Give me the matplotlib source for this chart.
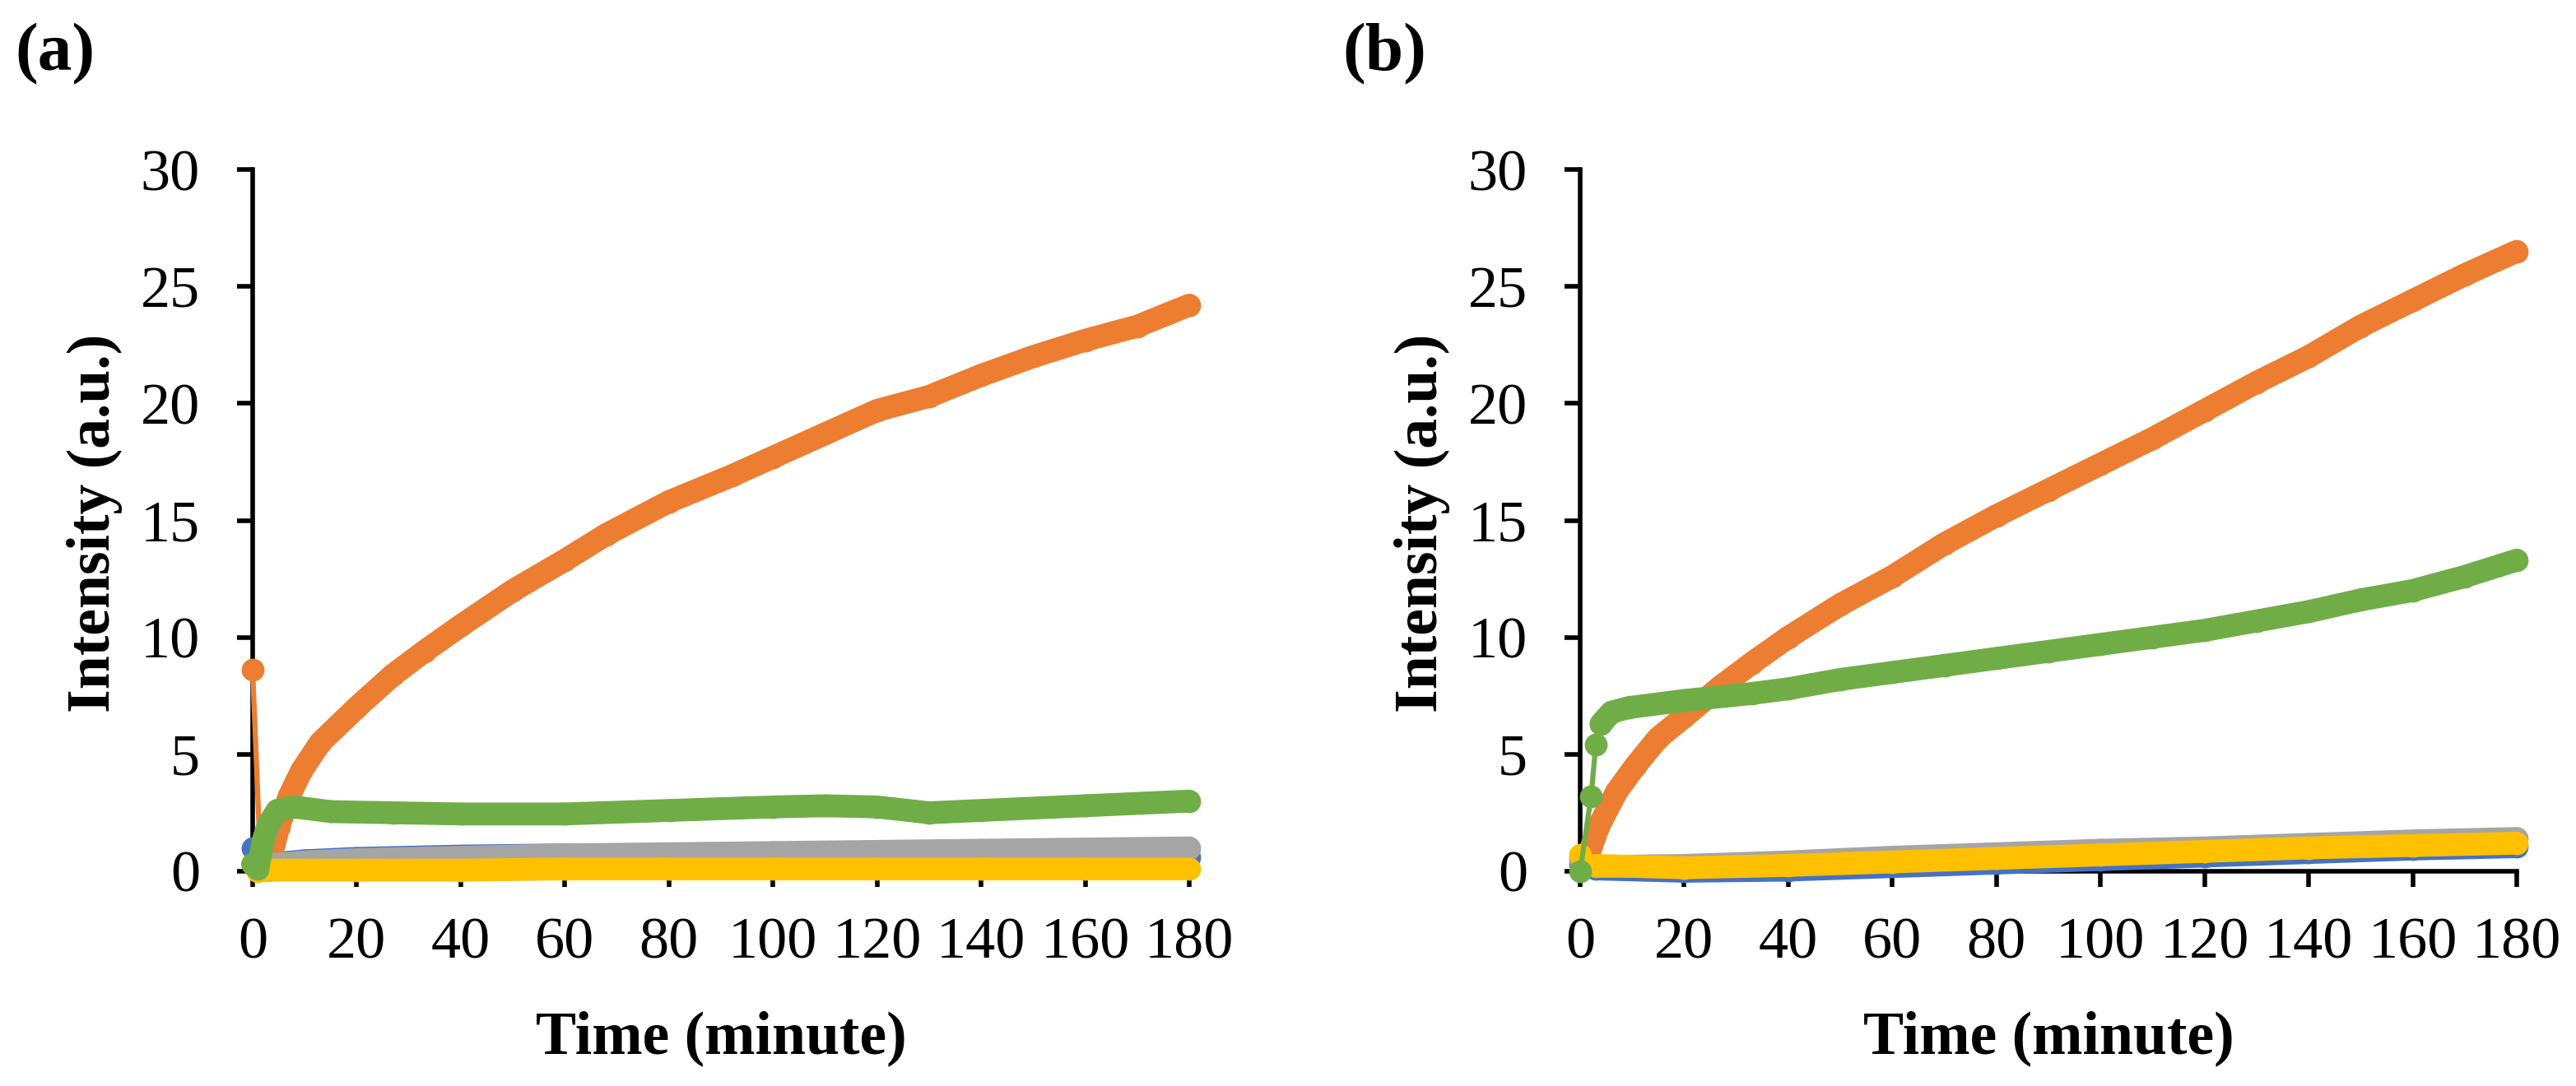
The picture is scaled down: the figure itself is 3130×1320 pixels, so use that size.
import matplotlib
matplotlib.use("Agg")
import matplotlib.pyplot as plt

plt.rcParams['font.family'] = ['Liberation Serif', 'DejaVu Serif']

# Excel default palette
blue = '#4472C4'
orange = '#ED7D31'
gray = '#A5A5A5'
yellow = '#FFC000'
green = '#70AD47'

# ---------------- panel (a) ----------------
blue_a_t = [0, 1, 3, 10, 20, 40, 60, 100, 140, 180]
blue_a_v = [1.0, 0.3, 0.3, 0.45, 0.55, 0.65, 0.7, 0.65, 0.6, 0.6]

orange_a_t = [0, 1.5, 3.5, 5, 7, 9.4, 13, 20, 27, 33, 40, 50, 60, 68, 80, 92,
              100, 110, 120, 130, 140, 150, 160, 170, 180]
orange_a_v = [8.6, 0.4, 0.6, 1.9, 3.2, 4.3, 5.5, 7.0, 8.4, 9.4, 10.5, 12.0, 13.3,
              14.4, 15.8, 16.9, 17.7, 18.7, 19.7, 20.3, 21.2, 22.0, 22.7, 23.3, 24.2]

gray_a_t = [0, 2, 10, 20, 40, 60, 80, 100, 120, 140, 160, 180]
gray_a_v = [0.3, 0.25, 0.4, 0.5, 0.6, 0.7, 0.75, 0.8, 0.85, 0.9, 0.95, 1.0]

yellow_a_t = [0, 1, 3, 20, 40, 60, 80, 100, 120, 140, 160, 180]
yellow_a_v = [0.3, 0.0, 0.05, 0.05, 0.05, 0.1, 0.1, 0.1, 0.1, 0.1, 0.1, 0.1]

green_a_t = [0, 1, 2, 3, 4.7, 8, 15, 27, 40, 60, 80, 100, 110, 120, 130, 140, 160, 180]
green_a_v = [0.3, 0.1, 1.3, 2.0, 2.6, 2.75, 2.55, 2.5, 2.45, 2.45, 2.6, 2.75, 2.8,
             2.75, 2.5, 2.6, 2.8, 3.0]

# ---------------- panel (b) ----------------
blue_b_t = [0, 3, 20, 40, 60, 80, 100, 120, 140, 160, 180]
blue_b_v = [0.3, 0.1, 0.0, 0.05, 0.2, 0.35, 0.5, 0.65, 0.8, 0.95, 1.05]

orange_b_t = [0, 1, 3.5, 7, 10.6, 15, 20, 27, 33, 40, 50, 60, 70, 80, 90, 100,
              110, 120, 130, 140, 150, 160, 170, 180]
orange_b_v = [0.6, 0.3, 1.9, 3.4, 4.5, 5.7, 6.6, 7.9, 8.9, 10.0, 11.4, 12.6, 14.0,
              15.2, 16.3, 17.4, 18.5, 19.7, 20.9, 22.0, 23.3, 24.4, 25.5, 26.5]

gray_b_t = [0, 3, 20, 40, 60, 80, 100, 120, 140, 160, 180]
gray_b_v = [0.5, 0.2, 0.25, 0.4, 0.6, 0.75, 0.9, 1.0, 1.15, 1.3, 1.4]

yellow_b_t = [0, 3, 20, 40, 60, 80, 100, 120, 140, 160, 180]
yellow_b_v = [0.7, 0.25, 0.15, 0.25, 0.4, 0.55, 0.7, 0.85, 1.0, 1.1, 1.2]

green_b_t = [0, 2.1, 3, 4, 6, 9.4, 20, 33, 40, 50, 60, 70, 80, 90, 100, 110, 120,
             130, 140, 150, 160, 170, 180]
green_b_v = [0.0, 3.2, 5.4, 6.3, 6.8, 7.0, 7.3, 7.6, 7.8, 8.2, 8.5, 8.8, 9.1, 9.4,
             9.7, 10.0, 10.3, 10.7, 11.1, 11.6, 12.0, 12.6, 13.3]

x_ticks = [0, 20, 40, 60, 80, 100, 120, 140, 160, 180]
y_ticks = [0, 5, 10, 15, 20, 25, 30]

# (time, value, colour, index where the dense marker band begins)
series_a = [(blue_a_t, blue_a_v, blue, 1),
            (orange_a_t, orange_a_v, orange, 1),
            (gray_a_t, gray_a_v, gray, 1),
            (yellow_a_t, yellow_a_v, yellow, 1),
            (green_a_t, green_a_v, green, 0)]
series_b = [(blue_b_t, blue_b_v, blue, 1),
            (orange_b_t, orange_b_v, orange, 1),
            (gray_b_t, gray_b_v, gray, 1),
            (yellow_b_t, yellow_b_v, yellow, 1),
            (green_b_t, green_b_v, green, 3)]

W, H = 3130, 1320
fig = plt.figure(figsize=(W / 100, H / 100), dpi=100)

def px(x0, x1, y0, y1):
    # axes rectangle from pixel coordinates (y measured from top)
    return [x0 / W, 1 - y1 / H, (x1 - x0) / W, (y1 - y0) / H]

ax_a = fig.add_axes(px(307, 1445, 206, 1059))
ax_b = fig.add_axes(px(1920, 3058, 206, 1059))

band_lw = 20
for ax, series in [(ax_a, series_a), (ax_b, series_b)]:
    for z, (t, v, c, k) in enumerate(series):
        ax.plot(t, v, color=c, lw=4.5, marker='o', ms=band_lw, mew=0,
                clip_on=False, zorder=3 + z)
        ax.plot(t[k:], v[k:], color=c, lw=band_lw, solid_capstyle='round',
                solid_joinstyle='round', clip_on=False, zorder=3 + z)

    ax.set_xlim(0, 180)
    ax.set_ylim(0, 30)
    ax.set_xticks(x_ticks)
    ax.set_yticks(y_ticks)
    ax.spines['top'].set_visible(False)
    ax.spines['right'].set_visible(False)
    for s in ['left', 'bottom']:
        ax.spines[s].set_linewidth(4)
        ax.spines[s].set_zorder(2)
    ax.tick_params(axis='both', direction='out', length=14, width=4,
                   labelsize=52, color='black')
    ax.tick_params(axis='y', pad=32)
    ax.tick_params(axis='x', pad=26)

for label, ax in [('(a)', ax_a), ('(b)', ax_b)]:
    pos = ax.get_position()
    x_left = pos.x0 * W
    fig.text((x_left - 289) / W, 1 - 28 / H, label, ha='left', va='top',
             fontsize=60, fontweight='bold')
    fig.text((x_left - 192) / W, 1 - 636 / H, 'Intensity (a.u.)', rotation=90,
             ha='center', va='center', fontsize=53, fontweight='bold')
    fig.text(pos.x0 + pos.width / 2, 1 - 1262 / H, 'Time (minute)',
             ha='center', va='center', fontsize=53, fontweight='bold')

fig.savefig('out.png', dpi=100, facecolor='white')
